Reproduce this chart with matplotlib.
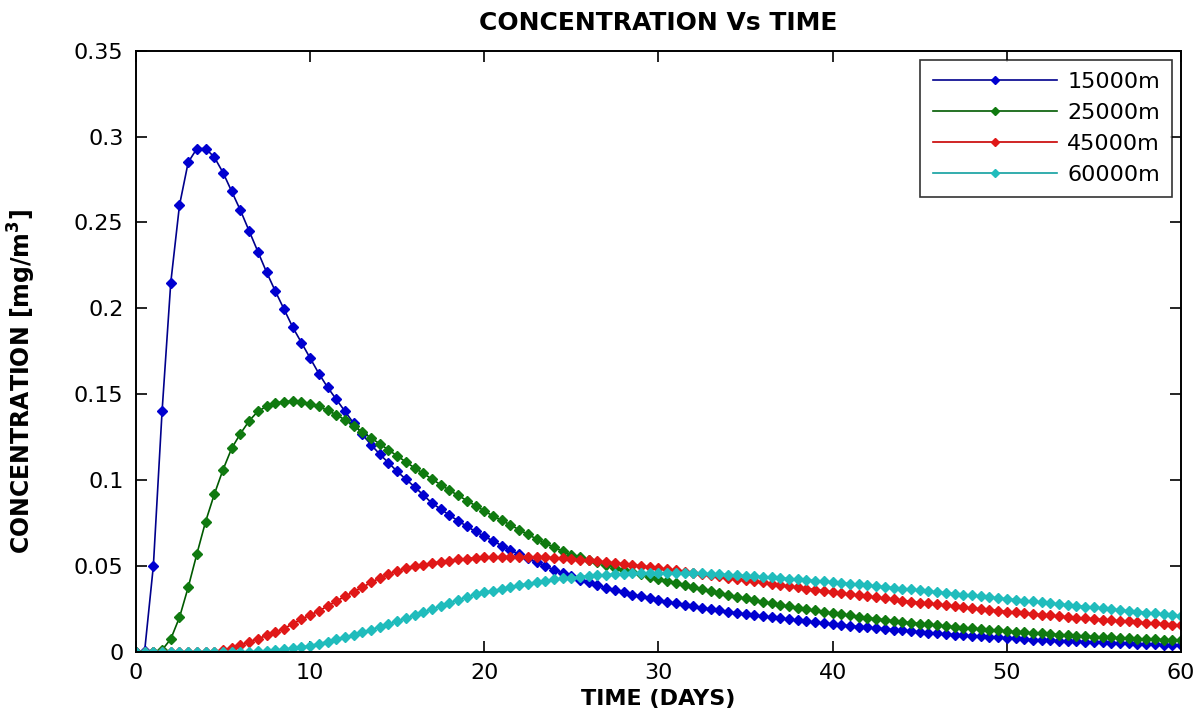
import numpy as np
import matplotlib
matplotlib.use("Agg")
import matplotlib.pyplot as plt

# time grid (days), sampled every half day
days = np.arange(0, 60.5, 0.5)

labels = ["15000m", "25000m", "45000m", "60000m"]

conc_15000 = [
    0, 0.0005, 0.05, 0.14, 0.215, 0.26, 0.285, 0.293, 0.293, 0.288,
    0.279, 0.268, 0.257, 0.245, 0.233, 0.221, 0.210, 0.1995, 0.189, 0.180,
    0.171, 0.162, 0.154, 0.147, 0.140, 0.133, 0.1265, 0.1205, 0.115, 0.110,
    0.105, 0.1004, 0.096, 0.0912, 0.0865, 0.083, 0.0795, 0.0762, 0.073, 0.070,
    0.0672, 0.0645, 0.0618, 0.0592, 0.0567, 0.0543, 0.052, 0.0498, 0.0477, 0.0457,
    0.0438, 0.042, 0.0403, 0.0387, 0.0372, 0.0358, 0.0345, 0.0333, 0.0322, 0.0311,
    0.0301, 0.0291, 0.0282, 0.0273, 0.0264, 0.0256, 0.0248, 0.024, 0.0233, 0.0226,
    0.0219, 0.0212, 0.0206, 0.02, 0.0194, 0.0188, 0.0182, 0.0176, 0.0171, 0.0166,
    0.0161, 0.0156, 0.0151, 0.0146, 0.0142, 0.0137, 0.0133, 0.0129, 0.0125, 0.0120,
    0.0115, 0.0111, 0.0107, 0.0103, 0.0099, 0.0096, 0.0092, 0.0089, 0.0086, 0.0083,
    0.008, 0.0077, 0.0074, 0.0071, 0.0069, 0.0066, 0.0064, 0.0062, 0.006, 0.0058,
    0.0056, 0.0054, 0.0052, 0.005, 0.0048, 0.0046, 0.0044, 0.0043, 0.0041, 0.0039,
    0.0037,
]

conc_25000 = [
    0, 0, 0, 0.001, 0.0074, 0.020, 0.0375, 0.057, 0.0758, 0.0917,
    0.106, 0.1185, 0.127, 0.1344, 0.140, 0.1428, 0.1447, 0.1457, 0.146, 0.1455,
    0.1445, 0.1428, 0.1405, 0.138, 0.135, 0.1315, 0.128, 0.1245, 0.121, 0.1175,
    0.1140, 0.1105, 0.107, 0.1038, 0.1005, 0.0972, 0.094, 0.091, 0.088, 0.085,
    0.082, 0.079, 0.0765, 0.0738, 0.071, 0.0683, 0.0657, 0.0632, 0.0608, 0.0586,
    0.0565, 0.055, 0.0535, 0.052, 0.0505, 0.049, 0.0476, 0.0463, 0.045, 0.0437,
    0.0424, 0.0411, 0.0399, 0.0387, 0.0375, 0.0363, 0.0352, 0.0341, 0.033, 0.032,
    0.031, 0.030, 0.0291, 0.0282, 0.0273, 0.0264, 0.0256, 0.0248, 0.024, 0.0232,
    0.0225, 0.0218, 0.0211, 0.0204, 0.0198, 0.0192, 0.0186, 0.018, 0.0174, 0.0169,
    0.0164, 0.0159, 0.0154, 0.0149, 0.0145, 0.014, 0.0136, 0.0132, 0.0128, 0.0124,
    0.012, 0.0116, 0.0113, 0.0109, 0.0106, 0.0103, 0.01, 0.0097, 0.0094, 0.0091,
    0.0088, 0.0086, 0.0083, 0.0081, 0.0078, 0.0076, 0.0074, 0.0072, 0.007, 0.0068,
    0.0066,
]

conc_45000 = [
    0, 0, 0, 0, 0, 0, 0, 0, 0, 0,
    0.0008, 0.0022, 0.0039, 0.0057, 0.0075, 0.0095, 0.0114, 0.0135, 0.0162, 0.019,
    0.0213, 0.0238, 0.0265, 0.0294, 0.0322, 0.035, 0.0375, 0.0403, 0.0429, 0.0452,
    0.0471, 0.0485, 0.0497, 0.0507, 0.0516, 0.0524, 0.0531, 0.0537, 0.0542, 0.0547,
    0.055, 0.0552, 0.0553, 0.0554, 0.0554, 0.0553, 0.0552, 0.055, 0.0547, 0.0544,
    0.054, 0.0536, 0.0532, 0.0527, 0.0522, 0.0517, 0.0512, 0.0506, 0.05, 0.0494,
    0.0487, 0.048, 0.0473, 0.0466, 0.0459, 0.0452, 0.0445, 0.0438, 0.0431, 0.0424,
    0.0417, 0.041, 0.0403, 0.0396, 0.0389, 0.0382, 0.0375, 0.0368, 0.0361, 0.0355,
    0.0348, 0.0341, 0.0335, 0.0329, 0.0322, 0.0316, 0.031, 0.0304, 0.0298, 0.0292,
    0.0286, 0.0281, 0.0275, 0.027, 0.0264, 0.0259, 0.0254, 0.0249, 0.0244, 0.0239,
    0.0234, 0.0229, 0.0225, 0.022, 0.0216, 0.0211, 0.0207, 0.0203, 0.0199, 0.0195,
    0.0191, 0.0187, 0.0183, 0.0179, 0.0176, 0.0172, 0.0168, 0.0165, 0.0162, 0.0158,
    0.0155,
]

conc_60000 = [
    0, 0, 0, 0, 0, 0, 0, 0, 0, 0,
    0, 0, 0, 0, 0.0002, 0.0004, 0.0008, 0.0014, 0.002, 0.0027,
    0.0036, 0.0047, 0.0059, 0.0072, 0.0085, 0.0099, 0.0113, 0.0128, 0.0145, 0.0162,
    0.0177, 0.0194, 0.0211, 0.0229, 0.0248, 0.0267, 0.0285, 0.0302, 0.0318, 0.0334,
    0.0346, 0.0356, 0.0366, 0.0376, 0.0387, 0.0397, 0.0406, 0.0414, 0.0421, 0.0427,
    0.0432, 0.0437, 0.0442, 0.0446, 0.0449, 0.0452, 0.0454, 0.0456, 0.0457, 0.0458,
    0.0459, 0.0459, 0.0459, 0.0458, 0.0457, 0.0456, 0.0454, 0.0452, 0.0449, 0.0446,
    0.0443, 0.044, 0.0437, 0.0434, 0.043, 0.0426, 0.0422, 0.0418, 0.0414, 0.041,
    0.0405, 0.0401, 0.0396, 0.0392, 0.0387, 0.0383, 0.0378, 0.0373, 0.0368, 0.0363,
    0.0358, 0.0353, 0.0348, 0.0343, 0.0338, 0.0333, 0.0328, 0.0323, 0.0318, 0.0313,
    0.0308, 0.0303, 0.0298, 0.0293, 0.0288, 0.0283, 0.0278, 0.0273, 0.0268, 0.0263,
    0.0258, 0.0253, 0.0248, 0.0243, 0.0238, 0.0233, 0.0228, 0.0223, 0.0218, 0.0213,
    0.0208,
]

x_ticks = [0, 10, 20, 30, 40, 50, 60]
y_ticks = [0, 0.05, 0.1, 0.15, 0.2, 0.25, 0.3, 0.35]
y_ticklabels = ["0", "0.05", "0.1", "0.15", "0.2", "0.25", "0.3", "0.35"]

series = [conc_15000, conc_25000, conc_45000, conc_60000]
line_colors = ["#00008c", "#005a00", "#c80000", "#10a0a0"]
marker_colors = ["#0000d0", "#107a10", "#e01818", "#20bcbc"]

plt.rcParams["font.family"] = ["DejaVu Sans"]

fig = plt.figure(figsize=(12.02, 7.19), dpi=100)
ax = fig.add_axes([0.1131, 0.0936, 0.8694, 0.8359])

for vals, lab, lc, mc in zip(series, labels, line_colors, marker_colors):
    ax.plot(days, vals, "-", color=lc, linewidth=1.2, marker="D", markersize=4.6,
            markerfacecolor=mc, markeredgecolor=mc, label=lab)

ax.set_xlim(0, 60)
ax.set_ylim(0, 0.35)
ax.set_xticks(x_ticks)
ax.set_yticks(y_ticks)
ax.set_yticklabels(y_ticklabels)

ax.tick_params(axis="both", which="major", direction="in", length=8, width=1.2,
               top=True, right=True, labelsize=16, colors="black")
ax.tick_params(axis="x", pad=8)
ax.tick_params(axis="y", pad=9)
for sp in ax.spines.values():
    sp.set_linewidth(1.4)
    sp.set_color("black")

ax.set_title("CONCENTRATION Vs TIME", fontsize=18, fontweight="bold", pad=15)
ax.set_xlabel("TIME (DAYS)", fontsize=16, fontweight="bold")
ax.set_ylabel("CONCENTRATION [mg/m$^\\mathbf{3}$]", fontsize=17, fontweight="bold")
ax.xaxis.set_label_coords(0.5, -0.062)
ax.xaxis.label.set_verticalalignment("top")
ax.yaxis.set_label_coords(-0.094, 0.45)

leg = ax.legend(loc="upper right", fontsize=16, frameon=True, fancybox=False,
                handlelength=5.6, handletextpad=0.45, labelspacing=0.5,
                borderaxespad=0.4, borderpad=0.55, markerscale=0.8)
leg.get_frame().set_edgecolor("black")
leg.get_frame().set_linewidth(1.2)

fig.savefig("out.png", dpi=100)
